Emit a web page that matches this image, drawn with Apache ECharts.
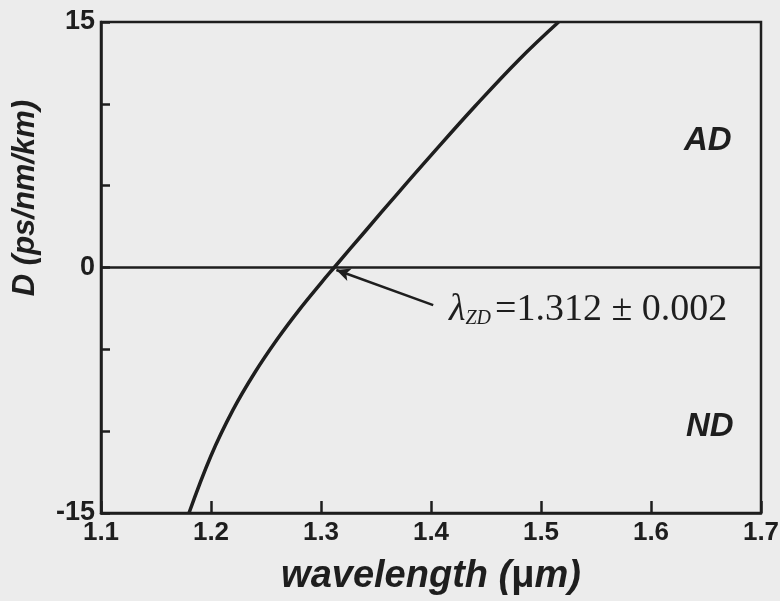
<!DOCTYPE html>
<html>
<head>
<meta charset="utf-8">
<script src="https://cdn.jsdelivr.net/npm/echarts@6/dist/echarts.min.js"></script>
<style>html,body{margin:0;padding:0;background:#ececec;}#c{width:780px;height:601px;}</style>
</head>
<body>
<div id="c"></div>
<script>
// Data
const wavelength = [1.180, 1.200, 1.220, 1.240, 1.260, 1.280, 1.300, 1.312, 1.340, 1.370, 1.400, 1.440, 1.480, 1.516];
const dispersion = [-15.0, -11.5, -8.7, -6.4, -4.4, -2.6, -0.95, 0.0, 2.2, 4.55, 6.85, 9.85, 12.7, 15.0];
const xTicks = [1.1, 1.2, 1.3, 1.4, 1.5, 1.6, 1.7];
const yLabelValues = [15, 0, -15];
const arrowStart = [1.402, -2.3];
const arrowEnd = [1.314, -0.15];
const zeroLevel = 0;

const ink = '#1e1e1e';
const chart = echarts.init(document.getElementById('c'), null, {renderer: 'canvas'});
chart.setOption({
  backgroundColor: '#ececec',
  animation: false,
  grid: {left: 101, right: 19, top: 22, bottom: 88, containLabel: false, outerBoundsMode: 'none',
    show: true, borderColor: ink, borderWidth: 2.5, backgroundColor: 'transparent'},
  xAxis: {
    type: 'value', min: xTicks[0], max: xTicks[xTicks.length - 1], interval: 0.1,
    axisLine: {show: true, onZero: false, lineStyle: {color: ink, width: 2.5}},
    axisTick: {show: true, inside: true, length: 12, lineStyle: {color: ink, width: 2.5}},
    splitLine: {show: false},
    axisLabel: {color: ink, fontFamily: 'Liberation Sans', fontWeight: 'bold', fontSize: 26, margin: 7,
      formatter: v => v.toFixed(1)},
    name: '{i|wavelength}{n| (}{u|μ}{n|m)}', nameLocation: 'middle', nameGap: 45,
    nameTextStyle: {rich: {
      i: {fontFamily: 'Liberation Sans', fontWeight: 'bold', fontStyle: 'italic', fontSize: 38, color: ink},
      n: {fontFamily: 'Liberation Sans', fontWeight: 'bold', fontStyle: 'italic', fontSize: 38, color: ink},
      u: {fontFamily: 'Liberation Sans', fontWeight: 'bold', fontSize: 38, color: ink}
    }}
  },
  yAxis: {
    type: 'value', min: -15, max: 15, interval: 5,
    axisLine: {show: true, onZero: false, lineStyle: {color: ink, width: 2.5}},
    axisTick: {show: true, inside: true, length: 9, lineStyle: {color: ink, width: 2.5}},
    splitLine: {show: false},
    axisLabel: {color: ink, fontFamily: 'Liberation Sans', fontWeight: 'bold', fontSize: 27, margin: 6,
      formatter: v => yLabelValues.indexOf(v) >= 0 ? String(v) : ''}
  },
  series: [{
    type: 'line', smooth: 0.4, symbol: 'none',
    data: wavelength.map((w, i) => [w, dispersion[i]]),
    lineStyle: {color: ink, width: 3.5},
    markLine: {
      silent: true, animation: false,
      data: [
        [{yAxis: zeroLevel, x: 101, symbol: 'none'}, {yAxis: zeroLevel, x: 761, symbol: 'none'}],
        [{coord: arrowStart, symbol: 'none'}, {coord: arrowEnd, symbol: 'arrow', symbolSize: [10, 14]}]
      ],
      lineStyle: {color: ink, width: 2.5, type: 'solid'},
      label: {show: false}
    }
  }],
  graphic: [
    {type: 'text', x: 25, y: 198, rotation: Math.PI / 2, style: {
      text: 'D (ps/nm/km)', align: 'center', verticalAlign: 'middle',
      fontFamily: 'Liberation Sans', fontWeight: 'bold', fontStyle: 'italic', fontSize: 31, fill: ink}},
    {type: 'text', left: 449, top: 291, style: {
      text: '{l|λ}{s|ZD}{t|=1.312 ± 0.002}',
      rich: {
        l: {fontFamily: 'Liberation Serif', fontStyle: 'italic', fontSize: 38, fill: ink},
        s: {fontFamily: 'Liberation Serif', fontStyle: 'italic', fontSize: 20, fill: ink, verticalAlign: 'bottom', padding: [16, 4, 0, 0]},
        t: {fontFamily: 'Liberation Serif', fontSize: 38, fill: ink}
      }
    }},
    {type: 'text', left: 684, top: 124, style: {text: 'AD', fontFamily: 'Liberation Sans', fontWeight: 'bold', fontStyle: 'italic', fontSize: 33, fill: ink}},
    {type: 'text', left: 686, top: 410, style: {text: 'ND', fontFamily: 'Liberation Sans', fontWeight: 'bold', fontStyle: 'italic', fontSize: 33, fill: ink}}
  ]
});
</script>
</body>
</html>
